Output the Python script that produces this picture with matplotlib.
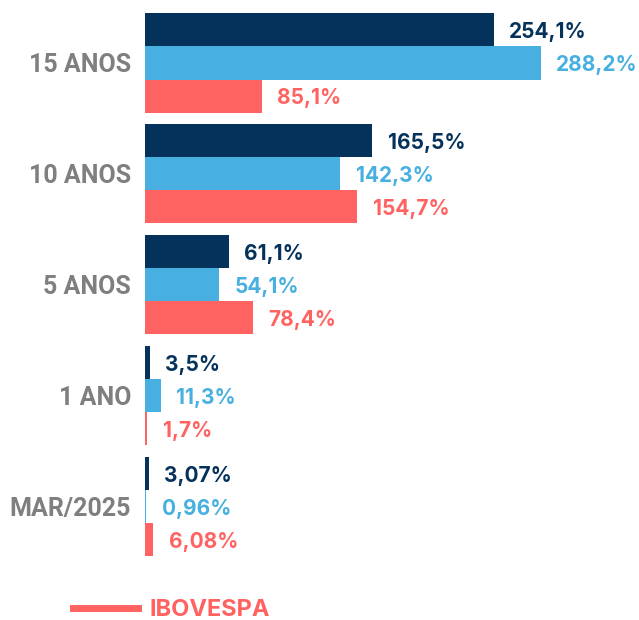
import matplotlib
matplotlib.use("Agg")
import matplotlib.pyplot as plt
from matplotlib.lines import Line2D

categories = ["15 ANOS", "10 ANOS", "5 ANOS", "1 ANO", "MAR/2025"]
fundo = [254.1, 165.5, 61.1, 3.5, 3.07]
cdi = [288.2, 142.3, 54.1, 11.3, 0.96]
ibov = [85.1, 154.7, 78.4, 1.7, 6.08]
fundo_lbl = ["254,1%", "165,5%", "61,1%", "3,5%", "3,07%"]
cdi_lbl = ["288,2%", "142,3%", "54,1%", "11,3%", "0,96%"]
ibov_lbl = ["85,1%", "154,7%", "78,4%", "1,7%", "6,08%"]

navy = "#05325A"
blue = "#47B0E0"
red = "#FF6361"
gray = "#7F7F7F"

W, H = 639, 620
fig = plt.figure(figsize=(W / 100, H / 100), dpi=100)
ax = fig.add_axes([145 / W, 0, 494 / W, 1])

h = 0.2976
y = list(range(len(categories)))
series = [(fundo, fundo_lbl, navy, -h), (cdi, cdi_lbl, blue, 0), (ibov, ibov_lbl, red, h)]
for vals, lbls, c, off in series:
    bars = ax.barh([i + off for i in y], vals, height=h, color=c, edgecolor="none")
    txts = ax.bar_label(bars, labels=lbls, padding=11, color=c, fontsize=15,
                        fontweight="bold", family="Inter")
    for t in txts:
        t.set_va("center_baseline")

ax.set_xlim(0, 494 / 1.3735)
ax.set_ylim((H - 63) / 110.9, -63 / 110.9)
ax.set_yticks(y)
ax.set_yticklabels(categories, color=gray, fontsize=18, fontweight="bold", family="Roboto")
ax.tick_params(axis="y", length=0, pad=10)
ax.set_xticks([])
for s in ax.spines.values():
    s.set_visible(False)

handle = Line2D([], [], color=red, lw=5)
leg = fig.legend([handle], ["IBOVESPA"], loc="center left", bbox_to_anchor=(52 / W, 1 - 610 / H),
                 frameon=False, handlelength=2.75, handletextpad=0.5,
                 prop={"family": "Inter", "weight": "bold", "size": 17})
for t in leg.get_texts():
    t.set_color(red)

fig.savefig("out.png", dpi=100)
